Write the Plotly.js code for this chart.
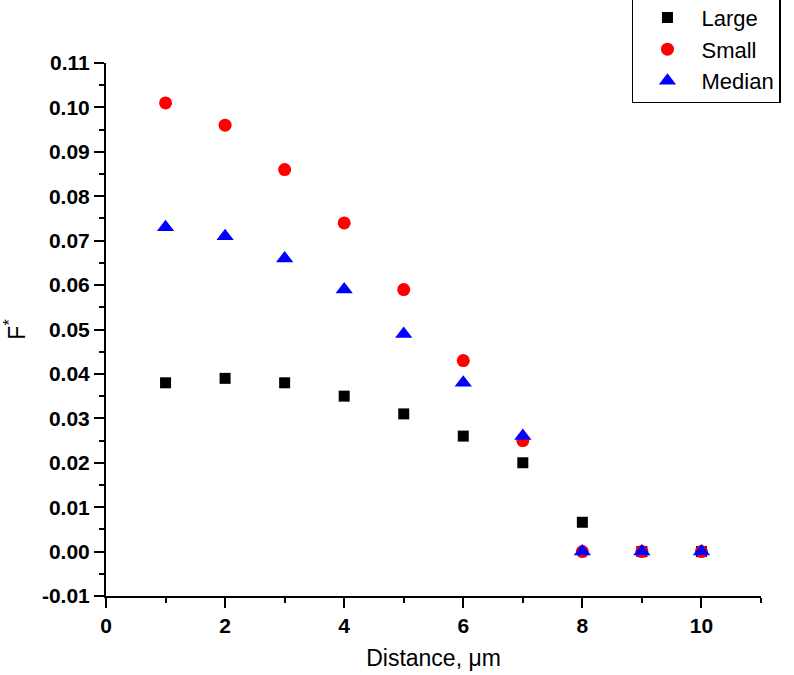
<!DOCTYPE html>
<html>
<head>
<meta charset="utf-8">
<script src="https://cdn.plot.ly/plotly-3.0.1.min.js"></script>
<style>html,body{margin:0;padding:0;background:#fff;}</style>
</head>
<body>
<div id="chart" style="width:794px;height:675px;"></div>
<script>
const distance = [1, 2, 3, 4, 5, 6, 7, 8, 9, 10];
const large  = [0.038, 0.039, 0.038, 0.035, 0.031, 0.026, 0.020, 0.0066, 0, 0];
const small  = [0.101, 0.096, 0.086, 0.074, 0.059, 0.043, 0.025, 0, 0, 0];
const median = [0.073, 0.071, 0.066, 0.059, 0.049, 0.038, 0.026, 0, 0, 0];
const xTickVals = [0, 2, 4, 6, 8, 10];
const yTickVals = [-0.01, 0.00, 0.01, 0.02, 0.03, 0.04, 0.05, 0.06, 0.07, 0.08, 0.09, 0.10, 0.11];

const FONT = 'Liberation Sans, Arial, sans-serif';

const traces = [
  {x: distance, y: large, name: 'Large', mode: 'markers', type: 'scatter',
   marker: {symbol: 'square', size: 11, color: '#000000'}},
  {x: distance, y: small, name: 'Small', mode: 'markers', type: 'scatter',
   marker: {symbol: 'circle', size: 13, color: '#ff0000'}},
  {x: distance, y: median, name: 'Median', mode: 'markers', type: 'scatter',
   marker: {symbol: 'triangle-up', size: 15, color: '#0000ff'}}
];

const axisCommon = {
  showgrid: false, zeroline: false, showline: true, linecolor: '#000', linewidth: 2,
  ticks: 'outside', ticklen: 10, tickwidth: 2, tickcolor: '#000',
  tickfont: {family: FONT, size: 21, color: '#000'}
};

const layout = {
  width: 794, height: 675,
  margin: {l: 106, r: 33, t: 63, b: 79, autoexpand: false},
  paper_bgcolor: '#fff', plot_bgcolor: '#fff',
  font: {family: FONT, color: '#000'},
  showlegend: true,
  legend: {
    x: 0.803, y: 1.127, xanchor: 'left', yanchor: 'top',
    bordercolor: '#000', borderwidth: 1.5, bgcolor: '#fff',
    font: {family: FONT, size: 22, color: '#000'},
    tracegroupgap: 0, itemwidth: 58
  },
  xaxis: Object.assign({}, axisCommon, {
    range: [0, 11], tickvals: xTickVals, ticktext: xTickVals.map(v => '<b>' + v + '</b>'),
    minor: {dtick: 1, tick0: 0, ticklen: 5, tickwidth: 2, tickcolor: '#000', ticks: 'outside'},
    title: {text: 'Distance, \u03bcm', font: {size: 23, family: FONT}, standoff: 14}
  }),
  yaxis: Object.assign({}, axisCommon, {
    range: [-0.01, 0.11], tickvals: yTickVals, ticktext: yTickVals.map(v => '<b>' + v.toFixed(2) + '</b>'),
    minor: {dtick: 0.005, tick0: 0, ticklen: 5, tickwidth: 2, tickcolor: '#000', ticks: 'outside'},
    title: {text: 'F<sup>*</sup>', font: {size: 23, family: FONT}, standoff: 10}
  })
};

Plotly.newPlot('chart', traces, layout, {displayModeBar: false, staticPlot: true});
</script>
</body>
</html>
